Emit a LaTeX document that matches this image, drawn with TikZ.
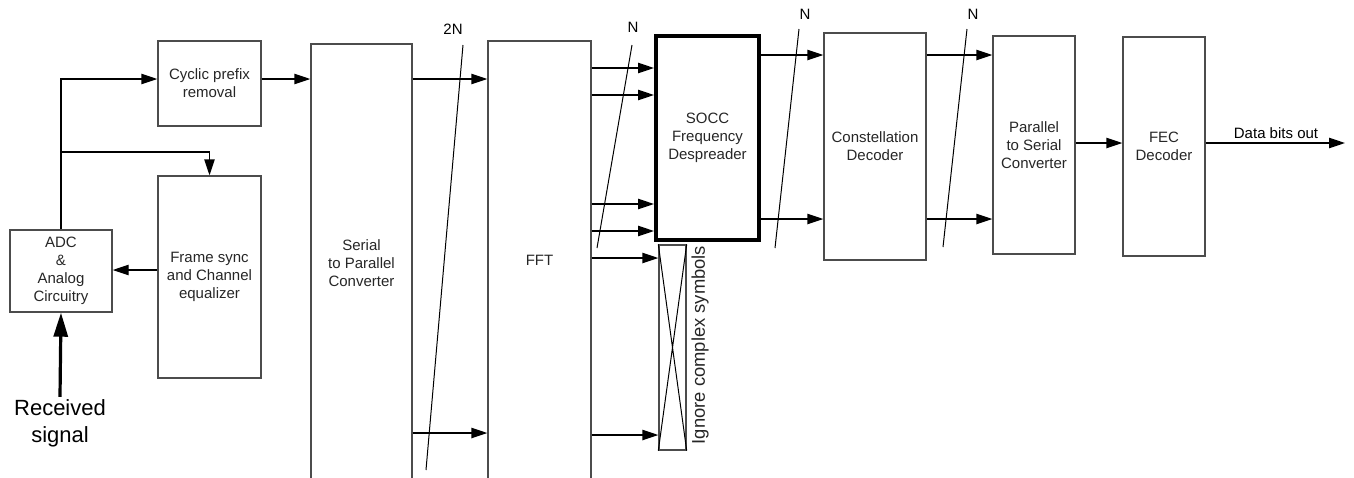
\documentclass[tikz,border=0pt]{standalone}
\usepackage{fontspec}
\setmainfont{Liberation Sans}
\usetikzlibrary{arrows.meta}

\begin{document}
\begin{tikzpicture}[x=0.5pt, y=-0.5pt,
        blk/.style={draw=black!70, line width=0.7pt, align=center, inner sep=0pt,
            text=black!85, font=\fontsize{7.5}{9}\selectfont},
        arr/.style={-{Triangle[length=8pt, width=5.2pt]}, line width=0.7pt},
        bus/.style={line width=0.5pt},
        lbl/.style={inner sep=1pt, font=\fontsize{7.5}{9}\selectfont}]
    \useasboundingbox (0,0) rectangle (1354,477);

    % Front end
    \node[blk, minimum width=51pt, minimum height=41pt] (adc) at (61,271) {ADC\\\&\\Analog\\Circuitry};
    \node[blk, minimum width=51.5pt, minimum height=42.5pt] (cp) at (209.5,83.5) {Cyclic prefix\\removal};
    \node[blk, minimum width=51.5pt, minimum height=101pt] (fs) at (209.5,277) {Frame sync\\and Channel\\equalizer};
    \node[align=center, inner sep=1pt, font=\fontsize{11}{13.5}\selectfont] (rx) at (60,423) {Received\\signal};

    % Main chain (S/P and FFT run off the bottom edge)
    \node[blk, minimum width=50.5pt, minimum height=219pt] (sp) at (361.5,263) {Serial\\to Parallel\\Converter};
    \node[blk, minimum width=51.5pt, minimum height=219.5pt] (fft) at (539.5,260.5) {FFT};
    \node[blk, draw=black, line width=2pt, minimum width=51.5pt, minimum height=102pt] (socc) at (707.5,138) {SOCC\\Frequency\\Despreader};
    \node[blk, minimum width=13.5pt, minimum height=102.5pt] (ign) at (672.5,347.5) {};
    \node[blk, minimum width=51pt, minimum height=113.5pt] (cd) at (875,146.5) {Constellation\\Decoder};
    \node[blk, minimum width=41pt, minimum height=109pt] (ps) at (1034,145) {Parallel\\to Serial\\Converter};
    \node[blk, minimum width=41pt, minimum height=109.5pt] (fec) at (1164,146.5) {FEC\\Decoder};

    % Ignored symbols box
    \draw[bus] (ign.north west) -- (ign.south east) (ign.north east) -- (ign.south west);
    \node[rotate=90, inner sep=0pt, text=black!85, font=\fontsize{9.2}{11}\selectfont] (igntxt) at (700,345) {Ignore complex symbols};

    % Front end arrows
    \coordinate (tap) at (adc.north |- 0,152);
    \draw[arr] (adc.north) |- (cp.west |- 0,79);
    \draw[arr] (tap) -| (fs.north);
    \draw[arr] (fs.west |- 0,270) -- (adc.east |- 0,270);
    \draw[-{Triangle[length=12pt, width=7pt]}, line width=1.6pt] (rx.north) -- (adc.south);
    \draw[arr] (cp.east |- 0,79) -- (sp.west |- 0,79);

    % Parallel buses
    \foreach \y in {79,433}
        \draw[arr] (sp.east |- 0,\y) -- (fft.west |- 0,\y);
    \foreach \y in {68,95,204,231}
        \draw[arr] (fft.east |- 0,\y) -- (socc.west |- 0,\y);
    \foreach \y in {258,435}
        \draw[arr] (fft.east |- 0,\y) -- (ign.west |- 0,\y);
    \foreach \y in {55,219} {
        \draw[arr] (socc.east |- 0,\y) -- (cd.west |- 0,\y);
        \draw[arr] (cd.east |- 0,\y) -- (ps.west |- 0,\y);
    }

    % Bus width marks
    \draw[bus] (463,45) -- (426,470);
    \node[lbl] (w1) at (453,29) {2N};
    \draw[bus] (632,45) -- (597,248);
    \node[lbl] (w2) at (633,27) {N};
    \draw[bus] (799,29) -- (775,248);
    \node[lbl] (w3) at (805,14) {N};
    \draw[bus] (967,29) -- (943,247);
    \node[lbl] (w4) at (973,14) {N};

    % Serial output
    \coordinate (out) at (1345,143);
    \draw[arr] (ps.east |- 0,143) -- (fec.west |- 0,143);
    \draw[arr] (fec.east |- 0,143) -- (out);
    \node[lbl] (dout) at (1276,133) {Data bits out};
\end{tikzpicture}
\end{document}
